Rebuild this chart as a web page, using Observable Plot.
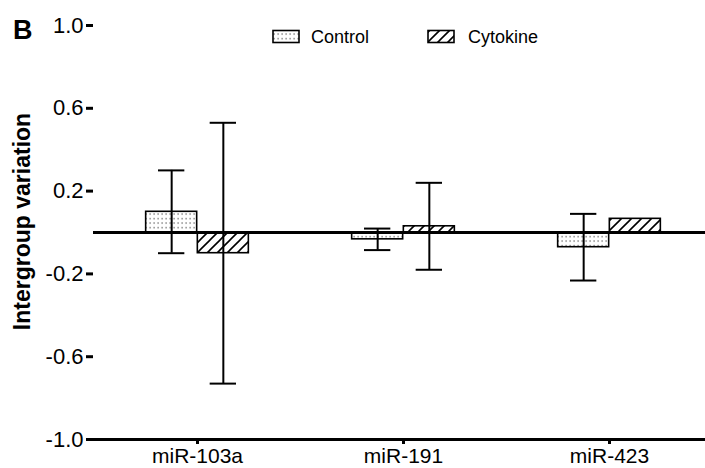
<!DOCTYPE html>
<html>
<head>
<meta charset="utf-8">
<script src="https://cdn.jsdelivr.net/npm/d3@7"></script>
<script src="https://cdn.jsdelivr.net/npm/@observablehq/plot@0.6"></script>
<style>
  html, body { margin: 0; padding: 0; background: white; }
  #chart { width: 705px; height: 468px; }
</style>
</head>
<body>
<div id="chart"></div>
<script>
const groups = ["miR-103a", "miR-191", "miR-423"];
const seriesNames = ["Control", "Cytokine"];
const controlMean = [0.10, -0.033, -0.071];
const controlErr = [0.20, 0.052, 0.161];
const cytokineMean = [-0.10, 0.030, 0.066];
const cytokineErr = [0.63, 0.21, 0];
const yTicks = [-1.0, -0.6, -0.2, 0.2, 0.6, 1.0];
const panelLabel = "B";
const yLabel = "Intergroup variation";

const control = groups.map((g, i) => ({group: g, series: seriesNames[0], mean: controlMean[i], err: controlErr[i]}));
const cytokine = groups.map((g, i) => ({group: g, series: seriesNames[1], mean: cytokineMean[i], err: cytokineErr[i]}));

const bandHalf = 103.33, barW = 51.67, capHalf = 13.5, off = barW / 2;
function errMarks(data, dx) {
  const d = data.filter(r => r.err > 0);
  return [
    Plot.ruleX(d, {x: "group", y1: r => r.mean - r.err, y2: r => r.mean + r.err, dx, stroke: "black", strokeWidth: 2}),
    Plot.tickY(d, {x: "group", y: r => r.mean + r.err, dx, insetLeft: bandHalf - capHalf, insetRight: bandHalf - capHalf, stroke: "black", strokeWidth: 2}),
    Plot.tickY(d, {x: "group", y: r => r.mean - r.err, dx, insetLeft: bandHalf - capHalf, insetRight: bandHalf - capHalf, stroke: "black", strokeWidth: 2})
  ];
}

const chart = Plot.plot({
  width: 705,
  height: 468,
  marginLeft: 93,
  marginRight: 0,
  marginTop: 25,
  marginBottom: 29,
  style: {fontFamily: "'Liberation Sans', Arial, sans-serif", background: "white", color: "black"},
  x: {type: "band", domain: groups, range: [93, 713], padding: 0},
  y: {domain: [-1, 1]},
  marks: [
    Plot.barY(control, {x: "group", y: "mean", insetLeft: bandHalf - barW, insetRight: bandHalf, fill: "url(#dots)", stroke: "black", strokeWidth: 1.6}),
    Plot.barY(cytokine, {x: "group", y: "mean", insetLeft: bandHalf, insetRight: bandHalf - barW, fill: "url(#hatch)", stroke: "black", strokeWidth: 1.6}),
    ...errMarks(control, -off),
    ...errMarks(cytokine, off),
    Plot.ruleY([0], {stroke: "black", strokeWidth: 3}),
    Plot.ruleY([-1], {stroke: "black", strokeWidth: 3}),
    Plot.axisY({ticks: yTicks, tickFormat: d => d.toFixed(1), tickSize: 7, tickPadding: 3, fontSize: 22, strokeWidth: 3, line: true, label: null}),
    Plot.axisX({tickSize: 5, tickPadding: 4, fontSize: 21, strokeWidth: 3, label: null})
  ]
});

const svg = d3.select(chart);
svg.selectAll(".tick line, [aria-label$='tick'] path").attr("stroke-width", 3);
const defs = svg.insert("defs", ":first-child");
const dots = defs.append("pattern").attr("id", "dots").attr("patternUnits", "userSpaceOnUse")
  .attr("width", 4).attr("height", 4.5);
dots.append("rect").attr("width", 4).attr("height", 4.5).attr("fill", "white");
dots.append("rect").attr("x", 1.5).attr("y", 2).attr("width", 1.2).attr("height", 1.2).attr("fill", "#444");
const hatch = defs.append("pattern").attr("id", "hatch").attr("patternUnits", "userSpaceOnUse")
  .attr("width", 10).attr("height", 10);
hatch.append("rect").attr("width", 10).attr("height", 10).attr("fill", "white");
hatch.append("path").attr("d", "M0,10 L10,0 M-2.5,2.5 L2.5,-2.5 M7.5,12.5 L12.5,7.5")
  .attr("stroke", "black").attr("stroke-width", 1.6);

const ann = svg.append("g").attr("text-anchor", "start").attr("fill", "black");
// panel label
ann.append("text").attr("x", 13).attr("y", 39).attr("font-size", 27).attr("font-weight", "bold").text(panelLabel);
// y label
ann.append("text").attr("transform", "translate(30,221.5) rotate(-90)").attr("text-anchor", "middle")
  .attr("font-size", 23).attr("font-weight", "bold").text(yLabel);
// legend
const legend = [{name: seriesNames[0], fill: "url(#dots)", x: 273, tx: 311}, {name: seriesNames[1], fill: "url(#hatch)", x: 428, tx: 468}];
for (const l of legend) {
  ann.append("rect").attr("x", l.x).attr("y", 30.5).attr("width", 26).attr("height", 12)
    .attr("fill", l.fill).attr("stroke", "black").attr("stroke-width", 1.6);
  ann.append("text").attr("x", l.tx).attr("y", 43).attr("font-size", 18).text(l.name);
}

document.getElementById("chart").appendChild(chart);
</script>
</body>
</html>
